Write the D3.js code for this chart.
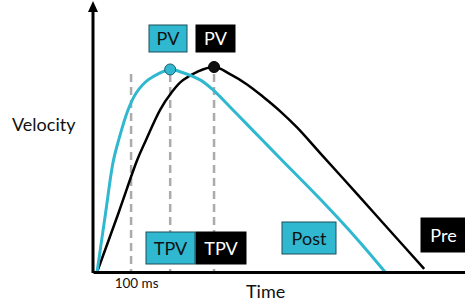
<!DOCTYPE html>
<html>
<head>
<meta charset="utf-8">
<script src="https://cdn.jsdelivr.net/npm/d3@7"></script>
<style>
  body { margin: 0; background: #fff; }
  svg text { font-family: Lato, "Open Sans", sans-serif; }
</style>
</head>
<body>
<svg width="465" height="302"></svg>
<script>
// time (ms) and velocity (relative units) for the two profiles
const postT = [0, 25, 47, 62, 91, 115, 150, 215, 244, 303, 341, 391, 441, 488, 538, 665, 765, 847];
const postV = [0, 28.8, 53.5, 63.5, 79, 87.3, 93.7, 98.8, 97.7, 93.7, 88.8, 80.5, 72, 64, 55.5, 34, 16, 0];
const preT = [0, 63, 118, 144, 185, 218, 253, 344, 391, 441, 488, 538, 588, 656, 765, 862, 962];
const preV = [0, 28.8, 54.6, 64.4, 79, 87.3, 93.7, 100, 96.5, 91.5, 85.5, 78.5, 70.5, 58, 38, 20, 1.5];
const tickMs = [100];
const cyan = '#2fb8cf';

const svg = d3.select('svg');

const x = d3.scaleLinear().domain([-12, 1082]).range([93, 465]);
const y = d3.scaleLinear().domain([0, 100]).range([272, 67]);

const toPts = (ts, vs) => ts.map((t, i) => ({t: t, v: vs[i]}));
const postData = toPts(postT, postV);
const preData = toPts(preT, preV);
const postPeak = postData.reduce((a, b) => b.v > a.v ? b : a);
const prePeak = preData.reduce((a, b) => b.v > a.v ? b : a);

const line = d3.line()
  .x(d => x(d.t))
  .y(d => y(d.v))
  .curve(d3.curveCatmullRom.alpha(0.5));

// dashed guide lines (100 ms, and each peak time)
const guides = [tickMs[0], postPeak.t, prePeak.t];
svg.selectAll('line.guide').data(guides).enter().append('line')
  .attr('class', 'guide')
  .attr('x1', d => x(d)).attr('x2', d => x(d))
  .attr('y1', 74).attr('y2', 272)
  .attr('stroke', '#ababab')
  .attr('stroke-width', 2.5)
  .attr('stroke-dasharray', '8,5');

// curves
svg.append('path').datum(preData)
  .attr('d', line).attr('fill', 'none')
  .attr('stroke', '#000').attr('stroke-width', 2.5);
svg.append('path').datum(postData)
  .attr('d', line).attr('fill', 'none')
  .attr('stroke', cyan).attr('stroke-width', 3);

// axes
const xAxis = d3.axisBottom(x)
  .tickValues(tickMs)
  .tickSize(0)
  .tickSizeOuter(0)
  .tickPadding(6.5)
  .tickFormat(d => d + ' ms');
const gx = svg.append('g').attr('transform', 'translate(0,272)').call(xAxis);
gx.select('.domain').attr('stroke', '#000').attr('stroke-width', 3);
gx.selectAll('text').attr('font-size', 13.5).attr('fill', '#111')
  .attr('dx', 5)
  .attr('font-family', 'Lato, sans-serif');

svg.append('line')
  .attr('x1', 93).attr('x2', 93).attr('y1', 273).attr('y2', 10)
  .attr('stroke', '#000').attr('stroke-width', 3);
svg.append('path')
  .attr('d', 'M93,1 L88,12 L98,12 Z')
  .attr('fill', '#000');

// peak markers
svg.append('circle').attr('cx', x(postPeak.t)).attr('cy', y(postPeak.v))
  .attr('r', 5.5).attr('fill', cyan).attr('stroke', '#1d5e6b').attr('stroke-width', 1);
svg.append('circle').attr('cx', x(prePeak.t)).attr('cy', y(prePeak.v))
  .attr('r', 5.5).attr('fill', '#111').attr('stroke', '#000').attr('stroke-width', 1);

// axis titles
svg.append('text').attr('x', 12).attr('y', 131)
  .attr('font-size', 18).attr('fill', '#111').text('Velocity');
svg.append('text').attr('x', 246).attr('y', 298)
  .attr('font-size', 18).attr('fill', '#111').text('Time');

// label boxes
const labels = [
  {text: 'PV', x0: 149, x1: 187, y0: 25, y1: 52, fill: cyan, color: '#111'},
  {text: 'PV', x0: 196, x1: 235, y0: 25, y1: 52, fill: '#000', color: '#fff'},
  {text: 'TPV', x0: 146, x1: 195, y0: 232, y1: 264, fill: cyan, color: '#111'},
  {text: 'TPV', x0: 196, x1: 246, y0: 232, y1: 264, fill: '#000', color: '#fff'},
  {text: 'Post', x0: 282, x1: 336, y0: 222, y1: 254, fill: cyan, color: '#111'},
  {text: 'Pre', x0: 421, x1: 466, y0: 218, y1: 252, fill: '#000', color: '#fff'}
];
const lg = svg.selectAll('g.lab').data(labels).enter().append('g').attr('class', 'lab');
lg.append('rect')
  .attr('x', d => d.x0).attr('y', d => d.y0)
  .attr('width', d => d.x1 - d.x0).attr('height', d => d.y1 - d.y0)
  .attr('fill', d => d.fill)
  .attr('stroke', d => d.fill === '#000' ? '#000' : '#1d4f5a')
  .attr('stroke-width', 1);
lg.append('text')
  .attr('x', d => (d.x0 + d.x1) / 2).attr('y', d => (d.y0 + d.y1) / 2 + 6.5)
  .attr('text-anchor', 'middle')
  .attr('font-size', 18)
  .attr('fill', d => d.color)
  .text(d => d.text);
</script>
</body>
</html>
